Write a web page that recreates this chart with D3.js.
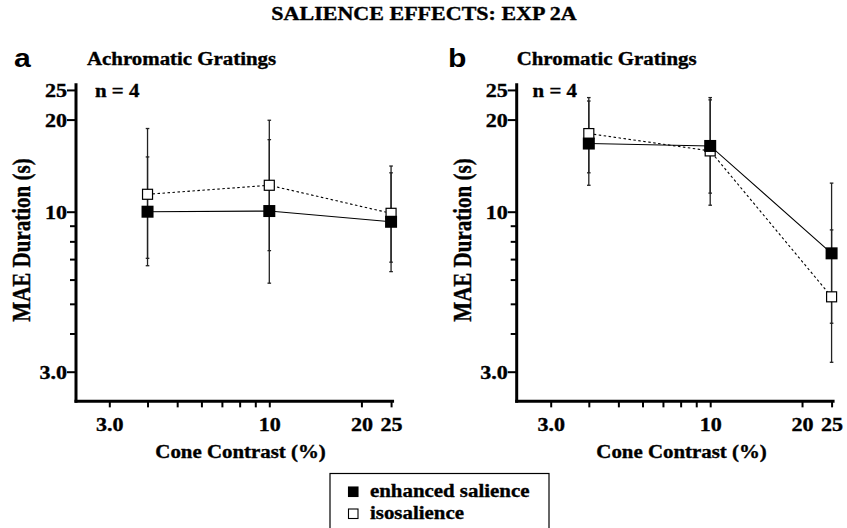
<!DOCTYPE html>
<html><head><meta charset="utf-8">
<script src="https://cdn.jsdelivr.net/npm/d3@7"></script>
<style>body{margin:0;background:#fff}svg{display:block}</style>
</head><body><svg id="c" width="847" height="528"></svg>
<script>
// ---- data ----
const chartTitle = "SALIENCE EFFECTS: EXP 2A";
const panelTitles = ["Achromatic Gratings", "Chromatic Gratings"];
const panelLetters = ["a", "b"];
const seriesNames = ["enhanced salience", "isosalience"];
const contrasts = [4, 10, 25];

const achromEnhanced   = [10.0, 10.05, 9.27];
const achromEnhancedLo = [6.66, 5.84, 6.37];
const achromEnhancedHi = [15.1, 17.2, 13.4];
const achromIso        = [11.4, 12.2, 9.88];
const achromIsoLo      = [7.04, 7.46, 6.84];
const achromIsoHi      = [18.7, 19.9, 14.1];

const chromEnhanced    = [16.7, 16.4, 7.31];
const chromEnhancedLo  = [12.2, 11.5, 4.32];
const chromEnhancedHi  = [23.0, 23.6, 12.4];
const chromIso         = [18.0, 15.8, 5.27];
const chromIsoLo       = [13.4, 10.5, 3.22];
const chromIsoHi       = [23.6, 23.2, 8.72];

const xTickValues = [3, 4, 5, 6, 7, 8, 9, 10, 20, 25];
const yTickValues = [3, 4, 5, 6, 7, 8, 9, 10, 20, 25];
const tickLabels = {3: "3.0", 10: "10", 20: "20", 25: "25"};
const xLabel = "Cone Contrast (%)";
const yLabel = "MAE Duration (s)";
const nLabel = "n = 4";

// ---- layout ----
const SX = 1.16;
const SERIF = "'Liberation Serif','Times New Roman',serif";
const SANS = "'Liberation Sans',Arial,sans-serif";
const svg = d3.select("#c");

function stext(x, y, str, size, anchor, family, extra) {
  const t = svg.append("text")
    .attr("transform", `translate(${x},${y}) scale(${SX},1)` + (extra || ""))
    .attr("text-anchor", anchor || "start")
    .attr("font-family", family || SERIF)
    .attr("font-weight", "bold")
    .attr("font-size", size)
    .attr("fill", "#000")
    .text(str);
  if (!family || family === SERIF) t.attr("stroke", "#000").attr("stroke-width", 0.35);
  return t;
}

stext(424, 20, chartTitle, 19, "middle");

const yScale = d3.scaleLog().domain([3, 10]).range([371.7, 211.7]);
const xAxisY = yScale(2.4);

const panels = [
  {x0: 76, xr: [109.3, 269.3], enh: achromEnhanced, enhLo: achromEnhancedLo, enhHi: achromEnhancedHi,
   iso: achromIso, isoLo: achromIsoLo, isoHi: achromIsoHi},
  {x0: 516.7, xr: [550.7, 710.2], enh: chromEnhanced, enhLo: chromEnhancedLo, enhHi: chromEnhancedHi,
   iso: chromIso, isoLo: chromIsoLo, isoHi: chromIsoHi}
];

panels.forEach((p, i) => {
  const dx = p.x0 - 76;
  const xScale = d3.scaleLog().domain([3, 10]).range(p.xr);

  // labels
  stext(14 + dx * 0.985, 67, panelLetters[i], 26, "start", SANS);
  stext(87 + dx * 0.975, 65, panelTitles[i], 18, "start");
  stext(95 + dx * 0.993, 97, nLabel, 18, "start");
  stext(30 + dx, 240, yLabel, 21, "middle", SERIF, " rotate(-90)");
  stext((xScale(2.3) + xScale(25)) / 2 + 8, 458, xLabel, 18, "middle");

  // x axis
  const gx = svg.append("g").attr("transform", `translate(0,${xAxisY})`);
  gx.call(d3.axisBottom(xScale).tickValues(xTickValues).tickSize(6).tickSizeOuter(0)
    .tickFormat(d => tickLabels[d] || ""));
  gx.select(".domain").remove();
  gx.selectAll(".tick line").attr("stroke", "#000").attr("stroke-width", 2);
  gx.selectAll(".tick text")
    .attr("font-family", SERIF).attr("font-weight", "bold").attr("font-size", 19)
    .attr("fill", "#000").attr("stroke", "#000").attr("stroke-width", 0.35)
    .attr("dy", null).attr("y", 29.5)
    .attr("transform", `scale(${SX},1)`);
  gx.append("line").attr("x1", p.x0 - 1.5).attr("x2", xScale(25) + 3)
    .attr("stroke", "#000").attr("stroke-width", 3);

  // y axis
  const gy = svg.append("g").attr("transform", `translate(${p.x0},0)`);
  gy.call(d3.axisLeft(yScale).tickValues(yTickValues).tickSize(6).tickSizeOuter(0)
    .tickFormat(d => tickLabels[d] || ""));
  gy.select(".domain").remove();
  gy.selectAll(".tick line").attr("stroke", "#000").attr("stroke-width", 2)
    .attr("x2", d => tickLabels[d] ? -9 : -6);
  gy.selectAll(".tick text")
    .attr("font-family", SERIF).attr("font-weight", "bold").attr("font-size", 19)
    .attr("fill", "#000").attr("stroke", "#000").attr("stroke-width", 0.35)
    .attr("dy", "0.34em").attr("x", -9 / SX)
    .attr("transform", `scale(${SX},1)`);
  gy.append("line").attr("y1", yScale(26.3)).attr("y2", xAxisY + 1.5)
    .attr("stroke", "#000").attr("stroke-width", 3);

  // series
  const series = [
    {vals: p.iso, lo: p.isoLo, hi: p.isoHi, fill: "#fff", dash: "2.5,2.5", size: 10},
    {vals: p.enh, lo: p.enhLo, hi: p.enhHi, fill: "#000", dash: null, size: 12}
  ];
  const line = d3.line().x(d => xScale(d.c)).y(d => yScale(d.v));
  series.forEach(s => {
    const pts = contrasts.map((c, k) => ({c, v: s.vals[k], lo: s.lo[k], hi: s.hi[k]}));
    svg.append("path").datum(pts).attr("d", line).attr("fill", "none")
      .attr("stroke", "#000").attr("stroke-width", 1.1).attr("stroke-dasharray", s.dash);
    const eb = svg.append("g");
    pts.forEach(d => {
      const x = xScale(d.c);
      eb.append("line").attr("x1", x).attr("x2", x).attr("y1", yScale(d.lo)).attr("y2", yScale(d.hi))
        .attr("stroke", "#222").attr("stroke-width", 1.3);
      [d.lo, d.hi].forEach(v => eb.append("line").attr("x1", x - 1.8).attr("x2", x + 1.8)
        .attr("y1", yScale(v)).attr("y2", yScale(v)).attr("stroke", "#222").attr("stroke-width", 1.3));
    });
    s.pts = pts;
  });
  series.forEach(s => {
    svg.append("g").selectAll("rect").data(s.pts).join("rect")
      .attr("x", d => xScale(d.c) - s.size / 2).attr("y", d => yScale(d.v) - s.size / 2)
      .attr("width", s.size).attr("height", s.size)
      .attr("fill", s.fill).attr("stroke", "#000").attr("stroke-width", s.fill === "#fff" ? 1.2 : 0);
  });
});

// legend
svg.append("rect").attr("x", 330).attr("y", 473.5).attr("width", 219).attr("height", 70)
  .attr("fill", "none").attr("stroke", "#000").attr("stroke-width", 1.2);
const legendFills = ["#000", "#fff"];
seriesNames.forEach((n, i) => {
  const y = 497 + i * 22;
  svg.append("rect").attr("x", 348.5).attr("y", y - 10).attr("width", 9.5).attr("height", 9.5)
    .attr("fill", legendFills[i]).attr("stroke", "#000").attr("stroke-width", 1.1);
  stext(370, y, n, 18, "start");
});
</script></body></html>
